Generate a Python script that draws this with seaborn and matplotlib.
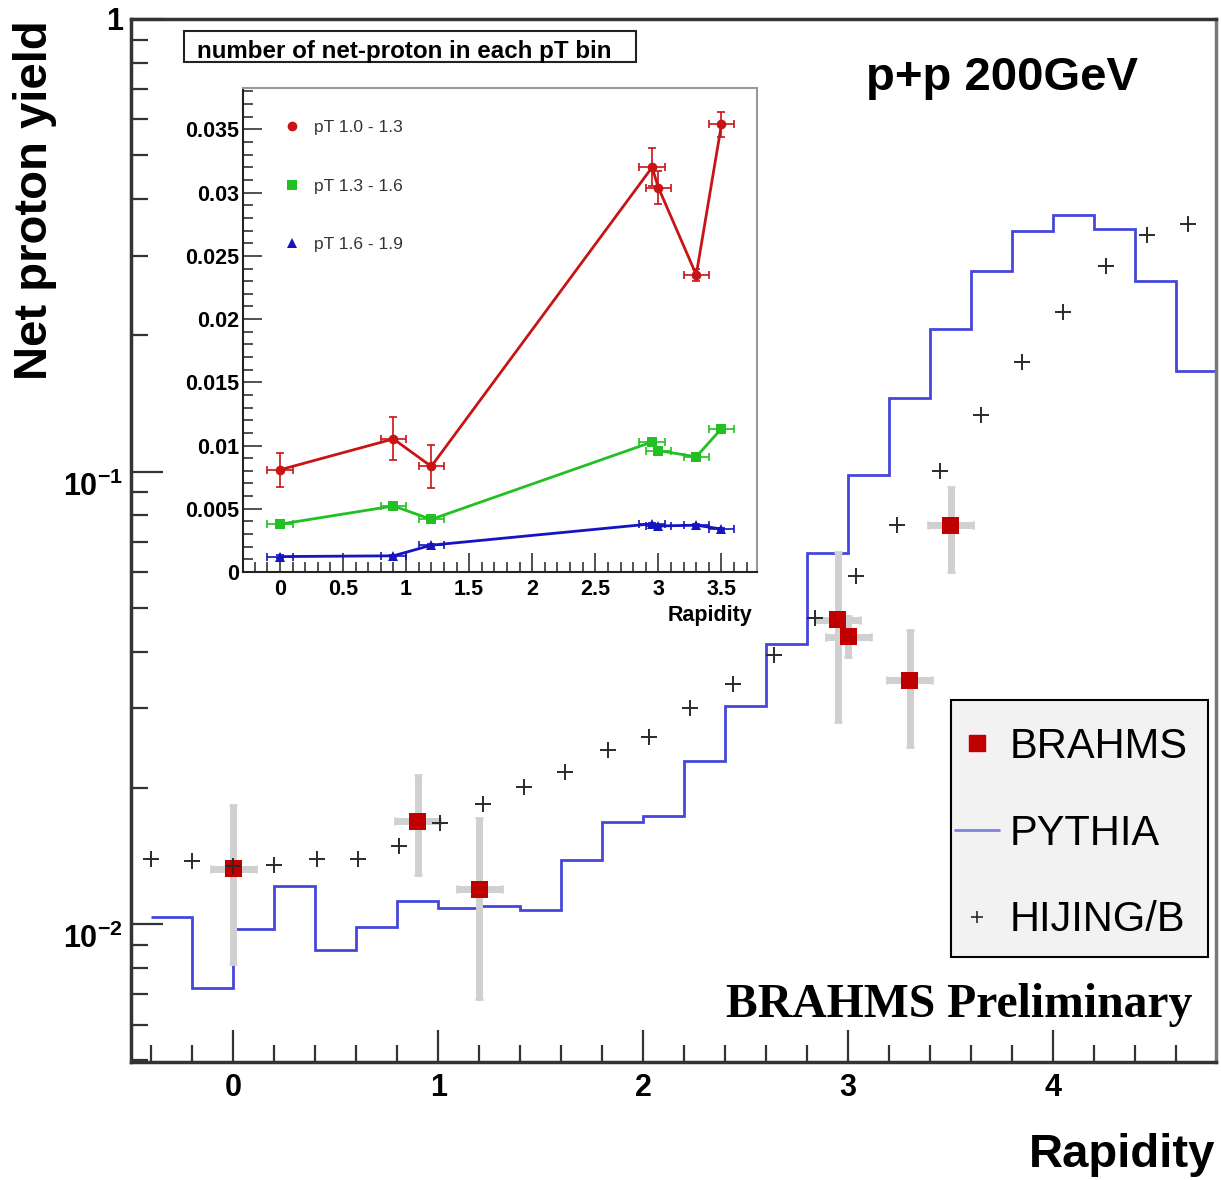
import matplotlib
matplotlib.use("Agg")
import matplotlib.pyplot as plt
import seaborn as sns
from matplotlib.ticker import MultipleLocator, FixedLocator, FuncFormatter, LogLocator, NullFormatter
from matplotlib.patches import Rectangle
from matplotlib.lines import Line2D

# ---- main panel data: BRAHMS points (rapidity, yield, lower/upper error edge)
brahms_x = [0.0, 0.9, 1.2, 2.95, 3.0, 3.3, 3.5]
brahms_val = [0.01327, 0.0169, 0.01193, 0.0470, 0.0432, 0.0346, 0.0762]
brahms_lo = [0.00815, 0.01283, 0.00682, 0.0280, 0.0389, 0.0246, 0.0600]
brahms_hi = [0.01831, 0.02134, 0.01717, 0.0663, 0.0480, 0.0446, 0.0925]
brahms_xerr = 0.11

# PYTHIA histogram (bin edges and contents)
pythia_edges = [-0.4, -0.2, 0.0, 0.2, 0.4, 0.6, 0.8, 1.0, 1.2, 1.4, 1.6, 1.8, 2.0, 2.2,
                2.4, 2.6, 2.8, 3.0, 3.2, 3.4, 3.6, 3.8, 4.0, 4.2, 4.4, 4.6, 4.8]
pythia_val = [0.01035, 0.00721, 0.00975, 0.01217, 0.00876, 0.00986, 0.01124, 0.01086,
              0.01097, 0.01074, 0.01389, 0.01685, 0.01730, 0.02294, 0.03033, 0.04166,
              0.0661, 0.0982, 0.1455, 0.2066, 0.278, 0.3408, 0.368, 0.3436, 0.264, 0.1667]

# HIJING/B points
hijing_x = [-0.40, -0.20, 0.00, 0.20, 0.41, 0.61, 0.81, 1.01, 1.22, 1.42, 1.62, 1.83, 2.03,
            2.23, 2.44, 2.64, 2.84, 3.04, 3.24, 3.45, 3.65, 3.85, 4.05, 4.26, 4.46, 4.66]
hijing_val = [0.01392, 0.01379, 0.01343, 0.01349, 0.01394, 0.01394, 0.01489, 0.01677,
              0.01846, 0.02010, 0.02170, 0.02420, 0.02598, 0.03010, 0.03386, 0.03937,
              0.04754, 0.0589, 0.0762, 0.1002, 0.1334, 0.1749, 0.2247, 0.2840, 0.3337, 0.3533]

# ---- inset data: net protons per pT bin
inset_x = [0.0, 0.9, 1.2, 2.95, 3.0, 3.3, 3.5]
pt1_val = [0.00808, 0.01052, 0.00835, 0.0320, 0.0304, 0.0235, 0.0354]
pt1_err = [0.00136, 0.0017, 0.0017, 0.0015, 0.0013, 0.0005, 0.0010]
pt2_val = [0.00378, 0.00522, 0.00416, 0.01028, 0.0096, 0.00911, 0.01134]
pt2_err = [0.0002, 0.0002, 0.0002, 0.0002, 0.0002, 0.0002, 0.0002]
pt3_val = [0.00122, 0.00128, 0.00212, 0.00381, 0.00364, 0.0037, 0.0034]
pt3_err = [0.0001, 0.0001, 0.0001, 0.0001, 0.0001, 0.0001, 0.0001]
inset_xerr = 0.1
pt_labels = ["pT 1.0 - 1.3", "pT 1.3 - 1.6", "pT 1.6 - 1.9"]

sns.set_style("white")
plt.rcParams['font.family'] = ['Liberation Sans', 'DejaVu Sans']
plt.rcParams['font.weight'] = 'bold'
plt.rcParams['text.color'] = 'black'
plt.rcParams['xtick.color'] = 'black'
plt.rcParams['ytick.color'] = 'black'
plt.rcParams['mathtext.fontset'] = 'custom'
plt.rcParams['mathtext.rm'] = 'Liberation Sans:bold'
plt.rcParams['mathtext.bf'] = 'Liberation Sans:bold'

W, H = 1221, 1180
fig = plt.figure(figsize=(W / 100, H / 100), dpi=100)


def fx(px):
    return px / W


def fy(py):
    return 1 - py / H


# ---------------- main axes ----------------
ax = fig.add_axes([fx(131), fy(1062), fx(1216) - fx(131), fy(19) - fy(1062)])
ax.set_yscale('log')
ax.set_xlim(-0.5, 4.795)
ax.set_ylim(0.00496, 1.0)

ax.stairs(pythia_val, pythia_edges, color='#4646dc', lw=2, baseline=None, zorder=2)

yerr = [[v - l for v, l in zip(brahms_val, brahms_lo)],
        [h - v for v, h in zip(brahms_val, brahms_hi)]]
ax.errorbar(brahms_x, brahms_val, yerr=yerr, xerr=brahms_xerr, fmt='none',
            ecolor='#d0d0d0', elinewidth=5, capsize=3, capthick=2, zorder=3)
sns.scatterplot(x=brahms_x, y=brahms_val, marker='s', s=150, color='#c00000',
                edgecolor='none', ax=ax, zorder=4)
sns.scatterplot(x=hijing_x, y=hijing_val, marker='+', s=120, color='#2a2a2a',
                linewidth=1.4, ax=ax, zorder=5)

ax.xaxis.set_major_locator(MultipleLocator(1))
ax.xaxis.set_minor_locator(MultipleLocator(0.2))
ax.yaxis.set_major_locator(FixedLocator([0.01, 0.1, 1.0]))
ax.yaxis.set_minor_locator(LogLocator(base=10, subs=[2, 3, 4, 5, 6, 7, 8, 9]))
ax.yaxis.set_minor_formatter(NullFormatter())
ylabels = {0.01: r'$10^{-2}$', 0.1: r'$10^{-1}$', 1.0: '1'}
ax.yaxis.set_major_formatter(FuncFormatter(lambda v, p: ylabels.get(round(v, 4), '')))
ax.xaxis.set_major_formatter(FuncFormatter(lambda v, p: f"{v:g}"))
ax.tick_params(which='both', direction='in', bottom=True, left=True, top=False,
               right=False, color='#333333')
ax.tick_params(which='major', length=23, width=1.6, labelsize=22, pad=8)
ax.tick_params(which='minor', length=12, width=1.6)
ax.tick_params(axis='y', which='major', pad=6)
for side in ['left', 'bottom', 'top']:
    ax.spines[side].set_color('#333333')
    ax.spines[side].set_linewidth(2.5)
ax.spines['right'].set_color('#777777')
ax.spines['right'].set_linewidth(2.5)

# the power-of-ten labels sit just below their tick, as in the original
fig.canvas.draw()
for tick in ax.yaxis.get_major_ticks():
    if tick.get_loc() < 0.5:
        tick.label1.set_va('top')

# legend frame drawn as its own box, legend entries placed inside it
ax.add_artist(Rectangle((fx(951), fy(957)), fx(1208) - fx(951), fy(700) - fy(957),
                        transform=fig.transFigure, fc='#f2f2f2', ec='black', lw=1.5,
                        zorder=6))
handles = [Line2D([], [], marker='s', color='#c00000', ls='none', markersize=11),
           Line2D([], [], color='#8080e0', lw=2),
           Line2D([], [], marker='+', color='#2a2a2a', ls='none', markersize=9, markeredgewidth=1.2)]
leg = ax.legend(handles, ['BRAHMS', 'PYTHIA', 'HIJING/B'], loc='upper left',
                bbox_to_anchor=(fx(955), fy(727)), bbox_transform=fig.transFigure,
                prop={'family': 'Liberation Sans', 'weight': 'normal', 'size': 30},
                frameon=False, borderaxespad=0, borderpad=0,
                labelspacing=1.12, handlelength=1.05, handletextpad=0.27)
leg.set_zorder(10)

fig.text(fx(35), fy(20), 'Net proton yield', rotation=90, ha='center', va='top', fontsize=34)
fig.text(fx(1215), fy(1155), 'Rapidity', ha='right', va='center', fontsize=34)
fig.text(fx(866), fy(90), 'p+p 200GeV', ha='left', va='baseline', fontsize=34)
fig.text(fx(1192), fy(1017), 'BRAHMS Preliminary', ha='right', va='baseline',
         fontsize=34.3, family='Liberation Serif', weight='bold')

# ---------------- inset ----------------
ax_in = fig.add_axes([fx(243.3), fy(572), fx(756.8) - fx(243.3), fy(88.3) - fy(572)])
ax_in.set_xlim(-0.29, 3.78)
ax_in.set_ylim(0, 0.03825)

series = [(pt1_val, pt1_err, '#c81414', 'o', 7),
          (pt2_val, pt2_err, '#22c022', 's', 7),
          (pt3_val, pt3_err, '#1414c0', '^', 7)]
for (vals, errs, col, mk, ms), lab in zip(series, pt_labels):
    ax_in.errorbar(inset_x, vals, yerr=errs, xerr=inset_xerr, fmt='none', ecolor=col,
                   elinewidth=1.2, capsize=3, capthick=1.2, zorder=2)
    sns.lineplot(x=inset_x, y=vals, color=col, lw=2, marker=mk, markersize=ms,
                 markeredgewidth=0, ax=ax_in, label=lab, zorder=3)

ax_in.legend(loc='upper left', bbox_to_anchor=(0.0777, 0.934), frameon=False,
             prop={'weight': 'normal', 'size': 12.5}, labelcolor='#333333',
             labelspacing=2.5, handlelength=1.0, handletextpad=0.75,
             borderaxespad=0, borderpad=0)
for h in ax_in.get_legend().legend_handles:
    h.set_linestyle('none')

ax_in.xaxis.set_major_locator(MultipleLocator(0.5))
ax_in.xaxis.set_minor_locator(MultipleLocator(0.1))
ax_in.yaxis.set_major_locator(MultipleLocator(0.005))
ax_in.yaxis.set_minor_locator(MultipleLocator(0.001))
ax_in.xaxis.set_major_formatter(FuncFormatter(lambda v, p: f"{v:g}"))
ax_in.yaxis.set_major_formatter(FuncFormatter(lambda v, p: f"{round(v, 4):g}"))
ax_in.tick_params(which='both', direction='in', bottom=True, left=True, top=False,
                  right=False, color='#333333')
ax_in.tick_params(which='major', length=14, width=1.2, labelsize=15.5, pad=5)
ax_in.tick_params(which='minor', length=7, width=1.2)
ax_in.tick_params(axis='y', which='major', pad=3)
for side in ['left', 'bottom']:
    ax_in.spines[side].set_color('#222222')
    ax_in.spines[side].set_linewidth(1.5)
for side in ['top', 'right']:
    ax_in.spines[side].set_color('#999999')
    ax_in.spines[side].set_linewidth(1.5)
ax_in.set_xlabel('')
ax_in.set_ylabel('')

fig.text(fx(752), fy(615), 'Rapidity', ha='right', va='center', fontsize=15.5)

# inset caption box
fig.add_artist(Rectangle((fx(184), fy(62.3)), fx(636) - fx(184), fy(30.7) - fy(62.3),
                         transform=fig.transFigure, fc='white', ec='#222222', lw=1.5))
fig.text(fx(197), fy(58.3), 'number of net-proton in each pT bin', ha='left',
         va='baseline', fontsize=17.4)

fig.savefig('out.png', dpi=100)
